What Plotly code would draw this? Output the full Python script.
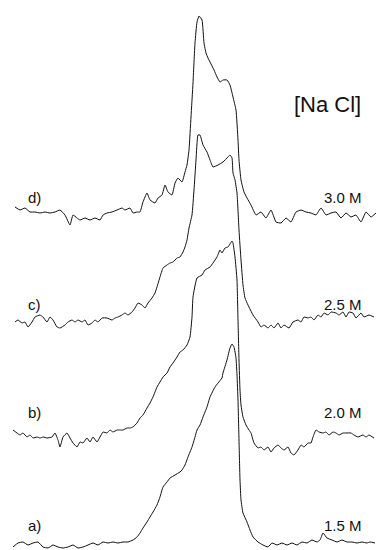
import plotly.graph_objects as go

# Four stacked spectra (intensity above each trace's own baseline), x in channel units
x_d = [15,20,25,30,35,40,45,50,55,60,65,70,73,77,80,85,90,95,100,103,107,112,117,122,125,130,133,137,140,143,147,150,155,158,162,165,168,172,175,178,182,185,187,189,191,193,195,197,199,202,204,206,208,211,214,217,220,223,227,230,233,236,238,239,241,244,247,251,256,261,266,271,276,281,286,291,296,301,306,311,316,321,326,331,336,341,346,351,356,361,366,371,376]
y_d = [8,5,7,3,3,2,3,2,3,5,0,-10,0,-3,-5,-3,-5,-3,-5,0,2,3,5,7,5,7,2,3,3,13,22,15,12,17,20,30,23,20,32,37,33,43,50,65,98,132,172,193,199,195,172,162,157,151,145,138,133,135,135,130,118,105,75,55,35,23,17,10,0,3,-3,5,-7,-8,-3,-7,3,5,3,2,0,7,0,2,3,-3,2,-2,0,-7,3,-2,2]

x_c = [15,18,22,25,28,32,35,40,43,47,50,53,57,60,65,68,72,75,78,82,85,88,92,95,98,102,107,112,115,118,122,125,128,132,135,138,142,145,148,152,155,157,160,163,167,170,173,177,180,183,185,187,189,192,194,196,198,200,203,207,210,213,218,223,228,230,232,233,235,237,239,241,243,245,248,253,258,261,264,268,271,274,278,281,284,289,293,298,301,304,308,311,314,318,321,324,328,331,336,339,343,346,349,353,356,361,364,369,374]
y_c = [-4,-2,-5,-4,-9,-4,1,3,1,-4,1,-2,-9,-10,-7,-4,-2,-4,-2,-4,-2,-7,-5,-2,-4,0,0,-2,0,1,3,5,3,6,10,15,13,10,15,20,25,31,41,50,53,55,56,60,61,66,71,78,90,103,128,158,183,183,173,166,158,151,153,156,161,163,160,145,138,125,88,58,33,20,13,3,-4,-9,-7,-10,-7,-10,-5,-10,-7,-10,-4,-2,-4,1,0,1,-2,3,1,5,3,6,5,3,6,1,6,5,0,5,1,3,1]

x_b = [13,17,20,23,27,30,33,37,40,43,47,52,55,58,60,63,67,70,73,77,80,83,87,90,93,97,100,103,107,110,113,117,120,123,127,130,133,137,140,143,147,150,153,157,160,163,167,170,173,177,180,183,187,190,192,193,197,202,205,210,213,217,220,222,225,228,232,233,235,237,238,239,240,241,243,246,249,251,254,258,261,264,268,271,274,278,281,284,288,291,294,298,301,304,308,311,313,316,319,323,326,329,333,336,339,343,346,351,354,358,363,366,369,374]
y_b = [7,4,2,4,0,2,-1,0,-1,0,-1,0,4,-3,-10,0,4,-1,-6,-10,-5,-6,-1,-5,0,-5,0,5,4,7,5,7,7,7,9,9,10,14,19,22,29,34,40,50,55,60,64,70,74,80,85,87,92,100,120,140,159,162,167,170,174,180,187,184,189,190,196,194,180,157,117,77,47,32,20,12,7,4,-6,-11,-10,-13,-10,-15,-11,-8,-11,-13,-10,-16,-18,-13,-8,-10,-6,-6,0,7,5,4,5,2,5,4,2,4,4,4,2,0,2,0,2,-1]

x_a = [13,18,23,28,33,38,43,48,53,58,63,68,73,78,83,88,93,98,103,108,113,118,123,128,133,137,140,143,147,150,153,157,160,163,167,170,175,180,182,185,188,192,195,197,200,203,207,210,215,218,222,223,227,230,232,234,236,237,238,239,240,241,243,247,250,253,258,263,268,272,277,282,287,292,297,302,307,312,317,320,323,327,332,337,342,347,352,357,362,367,370,375]
y_a = [-1,3,4,1,3,4,-1,-2,1,-1,-2,-1,1,-2,-1,1,3,1,4,3,4,3,4,4,6,9,13,18,24,29,34,41,49,59,64,68,71,74,76,81,89,99,109,116,121,129,139,149,159,163,168,173,186,198,202,199,188,171,146,106,66,46,33,24,16,9,4,1,-1,3,1,3,1,3,1,4,3,6,4,6,13,8,6,4,6,4,4,3,4,3,4,3]

series_x = [x_a, x_b, x_c, x_d]
series_y = [y_a, y_b, y_c, y_d]
offsets = [4, 113, 232, 335]
left_labels = ["a)", "b)", "c)", "d)"]
right_labels = ["1.5 M", "2.0 M", "2.5 M", "3.0 M"]
label_heights = [25, 138, 246, 353]
title_text = "[Na Cl]"

fig = go.Figure()
for xs, ys, off in zip(series_x, series_y, offsets):
    fig.add_trace(go.Scatter(
        x=xs, y=[v + off for v in ys], mode="lines",
        line=dict(color="#111111", width=1.0, shape="spline", smoothing=0.4),
        hoverinfo="skip", showlegend=False, cliponaxis=False))

font = dict(family="Liberation Sans, DejaVu Sans, sans-serif", size=15, color="#111111")
for lbl, rl, h in zip(left_labels, right_labels, label_heights):
    fig.add_annotation(x=34, y=h, text=lbl, showarrow=False, font=font,
                       xanchor="center", yanchor="middle")
    fig.add_annotation(x=343, y=h, text=rl, showarrow=False, font=font,
                       xanchor="center", yanchor="middle")
fig.add_annotation(x=327, y=446, text=title_text, showarrow=False,
                   font=dict(family="Liberation Sans, DejaVu Sans, sans-serif", size=22, color="#111111"),
                   xanchor="center", yanchor="middle")

fig.update_layout(
    width=376, height=550,
    margin=dict(l=0, r=0, t=0, b=0),
    paper_bgcolor="white", plot_bgcolor="white",
    hovermode=False,
    xaxis=dict(range=[0, 376], visible=False, fixedrange=True),
    yaxis=dict(range=[0, 550], visible=False, fixedrange=True),
)
# remove the page's default 8px body margin so the figure fills the window
fig.write_html("out.html",
               config={"displayModeBar": False, "staticPlot": True},
               post_script="document.body.style.margin='0px';document.body.style.overflow='hidden';")
